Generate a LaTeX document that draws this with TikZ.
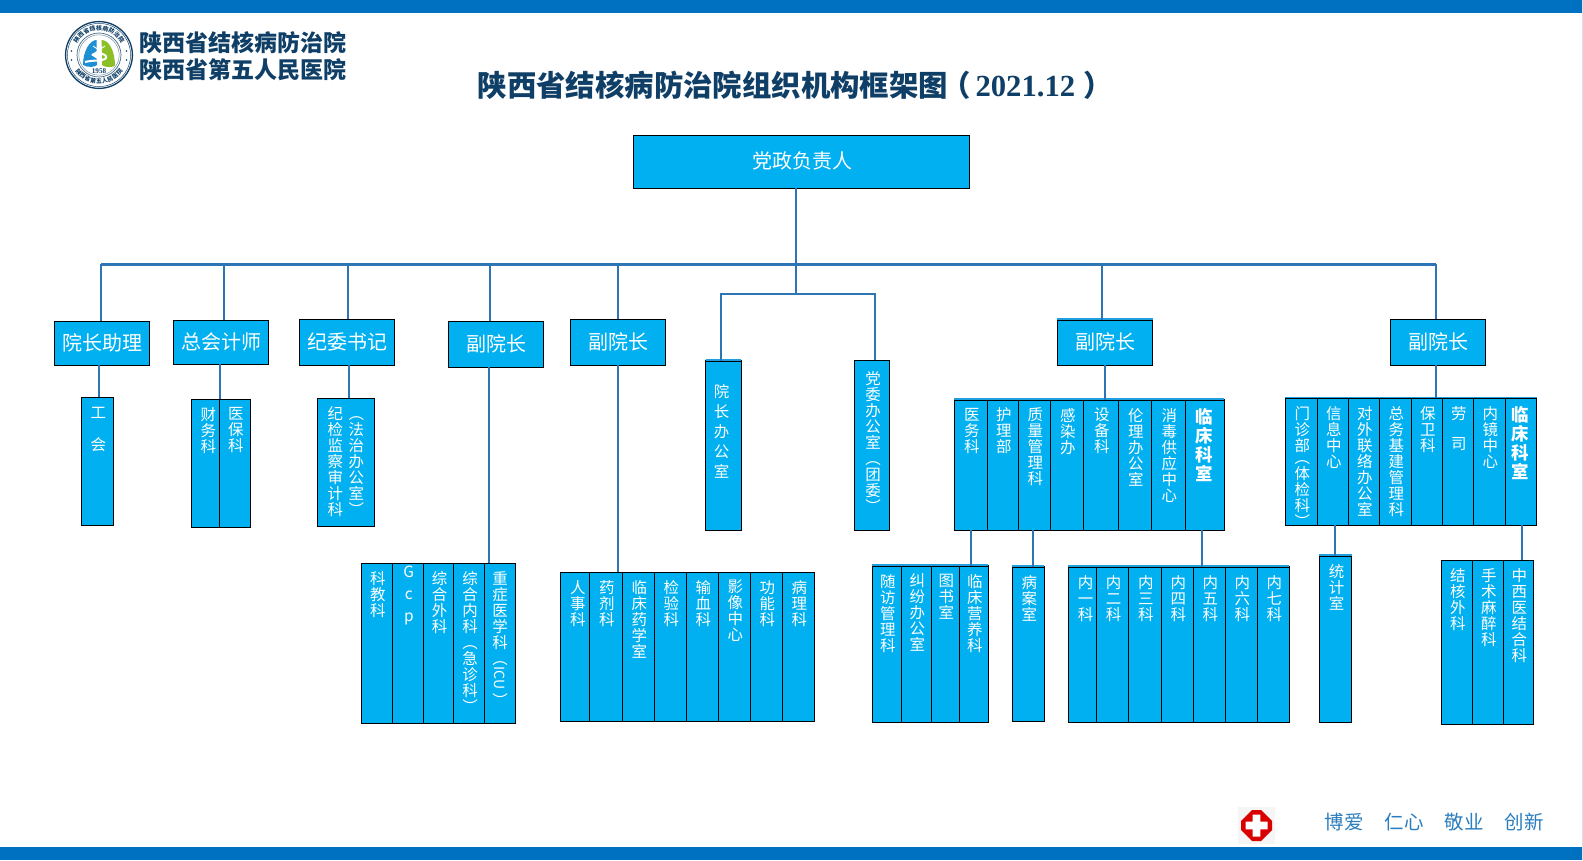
\documentclass[tikz,border=0pt]{standalone}
\usepackage{fontspec}
\setmainfont{Noto Sans CJK SC}
\newfontfamily\latinserif{Liberation Serif}
\definecolor{cellblue}{HTML}{00B0F0}
\definecolor{linkblue}{HTML}{2E75B6}
\definecolor{barblue}{HTML}{0070C0}
\definecolor{navy}{HTML}{0F3F66}
\definecolor{topblue}{HTML}{1E9FE0}
\definecolor{motto}{HTML}{2B7DBD}
\definecolor{lungblue}{HTML}{1E90D2}
\definecolor{lunggreen}{HTML}{8CBF26}
\newdimen\px \px=0.75pt
\newdimen\vsh
\makeatletter
\newcommand\vstk[1]{\@tfor\vch:=#1\do{\hbox to\hsize{\hss\kern\vsh\vch\hss}}}
\makeatother
\tikzset{
  x=0.75pt,y=-0.75pt,
  cellbox/.style={draw=black,line width=1.3*0.75pt,fill=cellblue,text=white,inner sep=0pt,outer sep=0pt,anchor=north west},
  headbox/.style={cellbox,font=\fontsize{15pt}{16pt}\selectfont,anchor=center},
  conn/.style={draw=linkblue,line width=2*0.75pt},
  busline/.style={draw=linkblue,line width=2.4*0.75pt},
  topline/.style={draw=topblue,line width=0.9pt},
  logotext/.style={font=\fontsize{17.25pt}{18pt}\selectfont\bfseries,text=navy,anchor=west,inner sep=0pt},
  mottotext/.style={font=\fontsize{14.6pt}{16pt}\selectfont,text=motto,inner sep=0pt},
  ringtext/.style={font=\fontsize{4.4pt}{5pt}\selectfont\bfseries,text=navy,inner sep=0pt},
}
% cell: [ink offset]{name}{x1}{x2}{y1}{y2}{body}
\newcommand\ocell[7][8]{%
  \pgfmathsetlengthmacro{\cw}{0.75*(#4-#3)}%
  \pgfmathsetlengthmacro{\ch}{0.75*(#6-#5)}%
  \node[cellbox] (#2) at (#3,#5) {\parbox[c][\ch][t]{\cw}{%
    \fontsize{11.6pt}{12pt}\selectfont\lineskiplimit=-20pt\baselineskip=16\px\vsh=2\px
    \vskip#1\px #7}};}
\newcommand\hcell[6]{%
  \pgfmathsetlengthmacro{\cw}{0.75*(#3-#2)}%
  \pgfmathsetlengthmacro{\ch}{0.75*(#5-#4)}%
  \node[headbox,minimum width=\cw,minimum height=\ch] (#1) at ({(#2+#3)/2},{(#4+#5)/2}) {\raisebox{2.5\px}{\kern1.5\px #6}};}
\newcommand\boldlabel[1]{\fontsize{13.1pt}{14pt}\selectfont\bfseries\baselineskip=19\px\vsh=-1\px\vstk{#1}}
\newcommand\busdrop[2]{\coordinate (tmpx) at (#2,0); \draw[conn] (tmpx |- bus) -- (tmpx |- #1.north);}
\newcommand\vlink[3]{\coordinate (tmpx) at (#3,0); \draw[conn] (tmpx |- #1.south) -- (tmpx |- #2.north);}
\newcommand\rowtop[2]{\draw[topline] ([yshift=0.8pt]#1.north west) -- ([yshift=0.8pt]#2.north east);}
\begin{document}
\begin{tikzpicture}
\useasboundingbox (0,0) rectangle (1583,860);
\fill[white] (0,0) rectangle (1583,860);
\fill[barblue] (0,0) rectangle (1582,13);
\fill[barblue] (0,847) rectangle (1582,860);
\fill[black!12] (1582,0) rectangle (1583,860);

% logo
\begin{scope}[shift={(99,55)}]
  \draw[navy,line width=1pt] (0,0) circle (33.4);
  \draw[navy,line width=0.35pt] (0,0) circle (31.6);
  \draw[navy!80,line width=0.5pt] (0,0) circle (22);
  \draw[navy!60,line width=0.35pt] (0,0) circle (20.2);
  \foreach \c [count=\i from 0] in {陕,西,省,结,核,病,防,治,院}
    \node[ringtext,rotate={56-\i*14}] at ({27*cos(146-\i*14)},{-27*sin(146-\i*14)}) {\c};
  \foreach \c [count=\i from 0] in {陕,西,省,第,五,人,民,医,院}
    \node[ringtext,rotate={-50+\i*12.5}] at ({26.6*cos(220+\i*12.5)},{-26.6*sin(220+\i*12.5)}) {\c};
  \fill[navy] (-27.5,-4) circle (0.9) (27.5,-4) circle (0.9) (-27.5,5) circle (0.9) (27.5,5) circle (0.9);
  \fill[lungblue] (-2.5,-15) .. controls (-9,-15) and (-16,-4) .. (-16,10) .. controls (-11,13) and (-4,12) .. (-2,10) -- (-2,4) -- (-8,0) -- (-2.5,-4) -- cycle;
  \fill[lunggreen] (2.5,-15) .. controls (10,-15) and (16,-4) .. (16,11) .. controls (11,13) and (5,12) .. (3,10) -- (3,-4) -- cycle;
  \draw[white,line width=1.5pt] (-7,0) .. controls (-1,-4) and (11,0) .. (6,4) .. controls (3,6) and (-6,5) .. (-14,7);
  \draw[white,line width=0.7pt] (0,-15) -- (0,-5) (0,-5) -- (-6,-9) (0,-5) -- (6,-9);
  \node[inner sep=0pt,text=navy,font=\latinserif\fontsize{5.4pt}{6pt}\selectfont\bfseries] (logoyear) at (0,16) {1958};
\end{scope}
\node[logotext] (logoa) at (139,42.5) {陕西省结核病防治院};
\node[logotext] (logob) at (139,70) {陕西省第五人民医院};

% title
\node[anchor=west,inner sep=0pt,text=navy,font=\fontsize{22.05pt}{24pt}\selectfont\bfseries] (title) at (477.5,85)
  {陕西省结核病防治院组织机构框架图\kern-7\px （\kern5\px{\latinserif\fontsize{23pt}{24pt}\selectfont 2021.12}\kern8\px ）};

% heads
\hcell{root}{633.3}{969.7}{135.3}{188.3}{党政负责人}
\hcell{aide}{54.3}{149.3}{321.3}{365.3}{院长助理}
\hcell{acct}{173.3}{268.3}{320.3}{364.3}{总会计师}
\hcell{disc}{299.3}{394.3}{319.3}{365.3}{纪委书记}
\hcell{vpa}{448.3}{543.3}{321.3}{367.3}{副院长}
\hcell{vpb}{570.3}{665.3}{319.3}{365.3}{副院长}
\hcell{vpc}{1057.3}{1152.7}{320}{365.3}{副院长}
\hcell{vpd}{1390.3}{1485.7}{319.3}{365.3}{副院长}

% second level
\ocell[10]{gh}{81.3}{113.3}{397.3}{525.3}{\vstk{工{~}会}}
\ocell{cw}{191.3}{219.3}{399.3}{527.3}{\vsh=6\px\vstk{财务科}}
\ocell{yb}{219.3}{250.3}{399.3}{527.3}{\vstk{医保科}}
\ocell{jj}{317.3}{374.3}{398.3}{526.3}{\hbox to\hsize{\hfil\vtop{\hsize=16\px \vstk{纪检监察审计科}}\hskip5\px\vtop{\hsize=16\px \vstk{︵法治办公室︶}}\kern2\px\hfil}}
\ocell[23]{yz}{705.7}{741.3}{361}{530.3}{\baselineskip=20\px\vsh=-4\px \vstk{院长办公室}}
\ocell[11]{dw}{854.7}{889.3}{360.3}{530.3}{\vstk{党委办公室︵团委︶}}

% row A
\ocell{ra}{361.3}{392.3}{563.3}{723.3}{\vstk{科教科}}
\ocell[3]{rb}{392.3}{423.3}{563.3}{723.3}{\baselineskip=22\px \vstk{Gcp}}
\ocell{rc}{423.3}{453.7}{563.3}{723.3}{\vstk{综合外科}}
\ocell{rd}{453.7}{484.7}{563.3}{723.3}{\vstk{综合内科︵急诊科︶}}
\ocell{re}{484.7}{515.3}{563.3}{723.3}{\vsh=0\px\vstk{重症医学科︵}\vskip3\px\hbox to\hsize{\hss\rotatebox[origin=c]{-90}{\fontsize{10.5pt}{11pt}\selectfont ICU}\hss}\vskip7\px\vstk{︶}}

% row B
\ocell{sa}{560.3}{589.3}{572.3}{721.3}{\vsh=6\px\vstk{人事科}}
\ocell{sb}{589.3}{622.3}{572.3}{721.3}{\vstk{药剂科}}
\ocell{sc}{622.3}{654.3}{572.3}{721.3}{\vstk{临床药学室}}
\ocell{sd}{654.3}{686.3}{572.3}{721.3}{\vstk{检验科}}
\ocell{se}{686.3}{718.3}{572.3}{721.3}{\vstk{输血科}}
\ocell{sf}{718.3}{750.3}{572.3}{721.3}{\vstk{影像中心}}
\ocell{sg}{750.3}{782.3}{572.3}{721.3}{\vstk{功能科}}
\ocell{sh}{782.3}{814.3}{572.3}{721.3}{\vstk{病理科}}

% row C
\ocell{ta}{872.3}{901.3}{566}{722.3}{\vstk{随访管理科}}
\ocell{tb}{901.3}{931.3}{566}{722.3}{\vstk{纠纷办公室}}
\ocell{tc}{931.3}{959.3}{566}{722.3}{\vstk{图书室}}
\ocell{td}{959.3}{988.3}{566}{722.3}{\vstk{临床营养科}}
\ocell{ba}{1012.3}{1044.3}{567}{721.3}{\vstk{病案室}}

% row D
\ocell{ua}{1068.3}{1096.7}{567}{722.3}{\vsh=6\px\vstk{内一科}}
\ocell{ub}{1096.7}{1128.3}{567}{722.3}{\vstk{内二科}}
\ocell{uc}{1128.3}{1161.3}{567}{722.3}{\vstk{内三科}}
\ocell{ud}{1161.3}{1193.3}{567}{722.3}{\vstk{内四科}}
\ocell{ue}{1193.3}{1225.3}{567}{722.3}{\vstk{内五科}}
\ocell{uf}{1225.3}{1257.3}{567}{722.3}{\vstk{内六科}}
\ocell{ug}{1257.3}{1289.3}{567}{722.3}{\vstk{内七科}}

% row E
\ocell{va}{954.3}{987.3}{400}{530.3}{\vstk{医务科}}
\ocell{vb}{987.3}{1018.3}{400}{530.3}{\vstk{护理部}}
\ocell{vc}{1018.3}{1050.3}{400}{530.3}{\vstk{质量管理科}}
\ocell{vd}{1050.3}{1083.3}{400}{530.3}{\vstk{感染办}}
\ocell{ve}{1083.3}{1118.3}{400}{530.3}{\vstk{设备科}}
\ocell{vf}{1118.3}{1151.3}{400}{530.3}{\vstk{伦理办公室}}
\ocell{vg}{1151.3}{1185.3}{400}{530.3}{\vstk{消毒供应中心}}
\ocell{vh}{1185.3}{1224.3}{400}{530.3}{\boldlabel{临床科室}}

% row F
\ocell{wa}{1285.3}{1317.3}{398.3}{525.3}{\vstk{门诊部}\vskip-4\px\vstk{︵体检科︶}}
\ocell{wb}{1317.3}{1348.3}{398.3}{525.3}{\vstk{信息中心}}
\ocell{wc}{1348.3}{1379.3}{398.3}{525.3}{\vstk{对外联络办公室}}
\ocell{wd}{1379.3}{1411.3}{398.3}{525.3}{\vstk{总务基建管理科}}
\ocell{we}{1411.3}{1442.3}{398.3}{525.3}{\vstk{保卫科}}
\ocell{wf}{1442.3}{1473.3}{398.3}{525.3}{\baselineskip=15\px \vstk{劳{~}司}}
\ocell{wg}{1473.3}{1505.3}{398.3}{525.3}{\vstk{内镜中心}}
\ocell{wh}{1505.3}{1536.7}{398.3}{525.3}{\boldlabel{临床科室}}

% row G,H
\ocell{tj}{1319.3}{1351.7}{556}{722.3}{\vstk{统计室}}
\ocell{xa}{1441.3}{1472.3}{560.3}{724.3}{\vstk{结核外科}}
\ocell{xb}{1472.3}{1503.3}{560.3}{724.3}{\vstk{手术麻醉科}}
\ocell{xc}{1503.3}{1533.3}{560.3}{724.3}{\vstk{中西医结合科}}

% light top edges
\rowtop{vpc}{vpc}\rowtop{yz}{yz}\rowtop{ta}{td}\rowtop{ba}{ba}\rowtop{ua}{ug}
\rowtop{va}{vh}\rowtop{wa}{wh}\rowtop{tj}{tj}

% connectors
\coordinate (bus) at (0,264.3);
\coordinate (sub) at (0,294);
\coordinate (trunk) at (795.7,0);
\coordinate (busl) at (101,0);
\coordinate (busr) at (1436,0);
\coordinate (subl) at (721,0);
\coordinate (subr) at (875,0);
\draw[conn] (trunk |- root.south) -- (trunk |- sub);
\draw[busline] (busl |- bus) -- (busr |- bus);
\draw[conn] (subl |- yz.north) -- (subl |- sub) -- (subr |- sub) -- (subr |- dw.north);
\busdrop{aide}{101}
\busdrop{acct}{224}
\busdrop{disc}{347.7}
\busdrop{vpa}{490}
\busdrop{vpb}{617.7}
\busdrop{vpc}{1102}
\busdrop{vpd}{1436}
\vlink{aide}{gh}{99}
\vlink{acct}{cw}{220}
\vlink{disc}{jj}{349}
\vlink{vpa}{re}{489}
\vlink{vpb}{sb}{617.7}
\vlink{vpc}{ve}{1105}
\vlink{vpd}{we}{1436}
\vlink{va}{td}{971}
\vlink{vc}{ba}{1033}
\vlink{vh}{ue}{1201.7}
\vlink{wb}{tj}{1335}
\vlink{wh}{xc}{1522}

% cross badge
\fill[black!4] (1237.7,806.7) rectangle (1275,843.7);
\fill[red!85!black] (1252,810) -- (1261,810) -- (1272,821) -- (1272,830) -- (1261,841) -- (1252,841) -- (1241,830) -- (1241,821) -- cycle;
\fill[white] (1252.7,814.5) -- (1260.3,814.5) -- (1260.3,821.7) -- (1267.5,821.7) -- (1267.5,829.3) -- (1260.3,829.3) -- (1260.3,836.5) -- (1252.7,836.5) -- (1252.7,829.3) -- (1245.5,829.3) -- (1245.5,821.7) -- (1252.7,821.7) -- cycle;

% motto
\node[mottotext] (ma) at (1344,822) {博爱};
\node[mottotext] (mb) at (1404,822) {仁心};
\node[mottotext] (mc) at (1464,822) {敬业};
\node[mottotext] (md) at (1524,822) {创新};
\end{tikzpicture}
\end{document}
